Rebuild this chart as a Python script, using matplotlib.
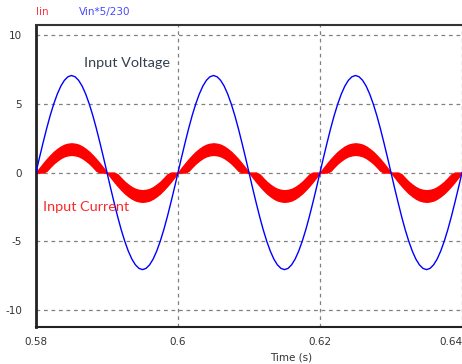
import matplotlib
matplotlib.use("Agg")
import matplotlib.pyplot as plt
import numpy as np

# Time axis: samples every 0.5 ms from 0.58 s to 0.64 s
t_start = 0.58
t_step = 0.0005
# Vin*5/230 (3 cycles, peak about 7.07)
vin_scaled = [
    0, 1.11, 2.18, 3.21, 4.16, 5.00, 5.72, 6.30, 6.72, 6.98, 7.07, 6.98, 6.72, 6.30, 5.72, 5.00, 4.16, 3.21, 2.18, 1.11,
    0, -1.11, -2.18, -3.21, -4.16, -5.00, -5.72, -6.30, -6.72, -6.98, -7.07, -6.98, -6.72, -6.30, -5.72, -5.00, -4.16, -3.21, -2.18, -1.11,
    0, 1.11, 2.18, 3.21, 4.16, 5.00, 5.72, 6.30, 6.72, 6.98, 7.07, 6.98, 6.72, 6.30, 5.72, 5.00, 4.16, 3.21, 2.18, 1.11,
    0, -1.11, -2.18, -3.21, -4.16, -5.00, -5.72, -6.30, -6.72, -6.98, -7.07, -6.98, -6.72, -6.30, -5.72, -5.00, -4.16, -3.21, -2.18, -1.11,
    0, 1.11, 2.18, 3.21, 4.16, 5.00, 5.72, 6.30, 6.72, 6.98, 7.07, 6.98, 6.72, 6.30, 5.72, 5.00, 4.16, 3.21, 2.18, 1.11,
    0, -1.11, -2.18, -3.21, -4.16, -5.00, -5.72, -6.30, -6.72, -6.98, -7.07, -6.98, -6.72, -6.30, -5.72, -5.00, -4.16, -3.21, -2.18, -1.11,
    0,
]
# Iin ripple band: outer envelope (peak about 2.13)
iin_outer = [
    0, 0.33, 0.66, 0.97, 1.25, 1.51, 1.72, 1.90, 2.03, 2.10, 2.13, 2.10, 2.03, 1.90, 1.72, 1.51, 1.25, 0.97, 0.66, 0.33,
    0, -0.33, -0.66, -0.97, -1.25, -1.51, -1.72, -1.90, -2.03, -2.10, -2.13, -2.10, -2.03, -1.90, -1.72, -1.51, -1.25, -0.97, -0.66, -0.33,
    0, 0.33, 0.66, 0.97, 1.25, 1.51, 1.72, 1.90, 2.03, 2.10, 2.13, 2.10, 2.03, 1.90, 1.72, 1.51, 1.25, 0.97, 0.66, 0.33,
    0, -0.33, -0.66, -0.97, -1.25, -1.51, -1.72, -1.90, -2.03, -2.10, -2.13, -2.10, -2.03, -1.90, -1.72, -1.51, -1.25, -0.97, -0.66, -0.33,
    0, 0.33, 0.66, 0.97, 1.25, 1.51, 1.72, 1.90, 2.03, 2.10, 2.13, 2.10, 2.03, 1.90, 1.72, 1.51, 1.25, 0.97, 0.66, 0.33,
    0, -0.33, -0.66, -0.97, -1.25, -1.51, -1.72, -1.90, -2.03, -2.10, -2.13, -2.10, -2.03, -1.90, -1.72, -1.51, -1.25, -0.97, -0.66, -0.33,
    0,
]
# Iin ripple band: inner envelope (peak about 1.29, clipped at zero near crossings)
iin_inner = [
    0, 0, 0, 0.13, 0.41, 0.67, 0.88, 1.06, 1.19, 1.26, 1.29, 1.26, 1.19, 1.06, 0.88, 0.67, 0.41, 0.13, 0, 0,
    0, 0, 0, -0.13, -0.41, -0.67, -0.88, -1.06, -1.19, -1.26, -1.29, -1.26, -1.19, -1.06, -0.88, -0.67, -0.41, -0.13, 0, 0,
    0, 0, 0, 0.13, 0.41, 0.67, 0.88, 1.06, 1.19, 1.26, 1.29, 1.26, 1.19, 1.06, 0.88, 0.67, 0.41, 0.13, 0, 0,
    0, 0, 0, -0.13, -0.41, -0.67, -0.88, -1.06, -1.19, -1.26, -1.29, -1.26, -1.19, -1.06, -0.88, -0.67, -0.41, -0.13, 0, 0,
    0, 0, 0, 0.13, 0.41, 0.67, 0.88, 1.06, 1.19, 1.26, 1.29, 1.26, 1.19, 1.06, 0.88, 0.67, 0.41, 0.13, 0, 0,
    0, 0, 0, -0.13, -0.41, -0.67, -0.88, -1.06, -1.19, -1.26, -1.29, -1.26, -1.19, -1.06, -0.88, -0.67, -0.41, -0.13, 0, 0,
    0,
]
x_ticks = [0.58, 0.6, 0.62, 0.64]
x_tick_labels = ["0.58", "0.6", "0.62", "0.64"]
y_ticks = [-10, -5, 0, 5, 10]
y_tick_labels = ["-10", "-5", "0", "5", "10"]

t = t_start + t_step * np.arange(len(vin_scaled))

fig = plt.figure(figsize=(4.62, 3.64), dpi=100)
ax = fig.add_axes([36 / 462, 1 - 327 / 364, 1 - 36 / 462, (327 - 25) / 364])

ax.fill_between(t, iin_outer, iin_inner, color="#ff0000", linewidth=1.0, edgecolor="#ff0000", zorder=2)
ax.plot(t, vin_scaled, color="#0000ff", linewidth=1.0, zorder=3)

ax.set_xlim(0.58, 0.64)
ax.set_ylim(-11.25, 10.75)
ax.set_xticks(x_ticks)
ax.set_xticklabels(x_tick_labels)
ax.set_yticks(y_ticks)
ax.set_yticklabels(y_tick_labels)
ax.tick_params(length=0, labelsize=7.5, colors="#333333")
ax.tick_params(axis="y", pad=10)
ax.tick_params(axis="x", pad=7)
xl = ax.get_xticklabels()
xl[-1].set_horizontalalignment("right")

ax.grid(True, color="#808080", linestyle=(0, (3, 3)), linewidth=0.9, zorder=1)
ax.set_axisbelow(True)

ax.spines["right"].set_visible(False)
ax.spines["left"].set_linewidth(2.0)
ax.spines["left"].set_color("#222222")
ax.spines["bottom"].set_linewidth(1.5)
ax.spines["bottom"].set_color("#222222")
ax.spines["top"].set_linewidth(1.5)
ax.spines["top"].set_color("#333333")

fig.text(291 / 462, 1 - 357 / 364, "Time (s)", ha="center", va="center", fontsize=7.5, color="#333333")
fig.text(36 / 462, 1 - 12 / 364, "Iin", ha="left", va="center", fontsize=7.5, color="#ff3048")
fig.text(79 / 462, 1 - 12 / 364, "Vin*5/230", ha="left", va="center", fontsize=7.5, color="#4848ff")

ax.text(0.5868, 7.95, "Input Voltage", fontsize=10.4, color="#333f4f", family="Lato", ha="left", va="center")
ax.text(0.581, -2.53, "Input Current", fontsize=10.4, color="#ff2828", family="Lato", ha="left", va="center")

fig.savefig("out.png", dpi=100)
